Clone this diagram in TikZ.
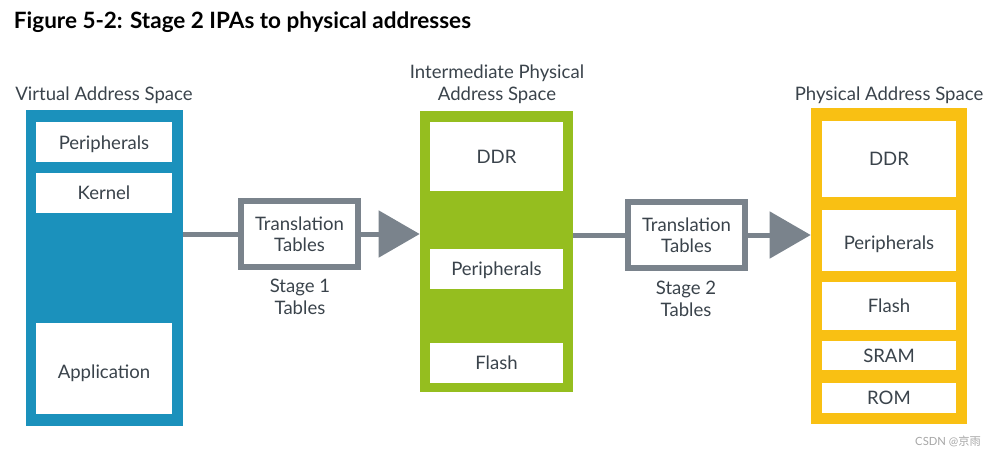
\documentclass[tikz,border=0pt]{standalone}
\usepackage{fontspec}
\setmainfont{Lato}
\newfontfamily\cjkfont{Noto Sans CJK SC}
\usetikzlibrary{arrows.meta}
\definecolor{vablue}{RGB}{27,145,188}
\definecolor{ipagreen}{RGB}{149,190,31}
\definecolor{payellow}{RGB}{249,192,19}
\definecolor{linkgray}{RGB}{122,131,140}
\definecolor{labelgray}{RGB}{58,67,75}
% lower a box text without changing its size
\newcommand{\lowered}[2]{\raisebox{-#1}[\height][\depth]{#2}}

\begin{document}
\begin{tikzpicture}[x=0.025cm,y=-0.025cm,font=\fontsize{13.2}{15}\selectfont,text=labelgray,
    space/.style={fill=#1,inner sep=0pt},
    region/.style={fill=white,inner sep=0pt,minimum width=#1},
    table box/.style={draw=linkgray,line width=0.15cm,fill=white,minimum width=2.925cm,minimum height=1.65cm,align=center,inner sep=0pt},
    caption/.style={align=center,font=\fontsize{13.2}{15.5}\selectfont},
    link/.style={draw=linkgray,color=linkgray,line width=0.125cm},
    big tip/.style={-{Triangle[length=1.025cm,width=1.15cm,fill=linkgray]}}]
    \useasboundingbox (0,0) rectangle (997,456);

    \node[anchor=west,text=black,font=\fontsize{16}{19}\selectfont\bfseries] (title) at (9,22) {Figure 5-2: Stage 2 IPAs to physical addresses};

    % virtual address space
    \node[space=vablue,minimum width=3.925cm,minimum height=7.9cm] (vas) at (104.5,268) {};
    \node[region=3.4cm,minimum height=1cm] (vperi) at (104,142) {\lowered{0.06cm}{Peripherals}};
    \node[region=3.4cm,minimum height=1cm] (vkern) at (104,193) {Kernel};
    \node[region=3.4cm,minimum height=2.275cm] (vapp) at (104,368.5) {\lowered{0.125cm}{Application}};
    \node[caption] (vaslabel) at (104,95) {Virtual Address Space};

    % intermediate physical address space
    \node[space=ipagreen,minimum width=3.825cm,minimum height=7.025cm] (ipa) at (496.5,251.5) {};
    \node[region=3.325cm,minimum height=1.725cm] (iddr) at (496.5,156.5) {DDR};
    \node[region=3.325cm,minimum height=1cm] (iperi) at (496.5,269) {\lowered{0.04cm}{Peripherals}};
    \node[region=3.325cm,minimum height=1cm] (iflash) at (496.5,363) {Flash};
    \node[caption] (ipalabel) at (497,84) {Intermediate Physical\\Address Space};

    % physical address space
    \node[space=payellow,minimum width=3.9cm,minimum height=7.9cm] (pas) at (889,266) {};
    \node[region=3.35cm,minimum height=1.9cm] (pddr) at (889,159) {DDR};
    \node[region=3.35cm,minimum height=1.525cm] (pperi) at (889,240.5) {\lowered{0.1cm}{Peripherals}};
    \node[region=3.35cm,minimum height=1.2cm] (pflash) at (889,306) {Flash};
    \node[region=3.35cm,minimum height=0.725cm] (psram) at (889,355.5) {SRAM};
    \node[region=3.35cm,minimum height=0.75cm] (prom) at (889,398) {ROM};
    \node[caption] (paslabel) at (889,95) {Physical Address Space};

    % translation tables
    \node[table box] (tt1) at (299.5,234) {Translation\\Tables};
    \node[caption] (st1) at (300,297) {Stage 1\\Tables};
    \node[table box] (tt2) at (686.5,235) {Translation\\Tables};
    \node[caption] (st2) at (686,299) {Stage 2\\Tables};

    \path[link]
        (vas.east |- tt1) edge (tt1.west)
        (tt1.east) edge[big tip] (ipa.west |- tt1)
        (ipa.east |- tt2) edge (tt2.west)
        (tt2.east) edge[big tip] (pas.west |- tt2)
        ;

    \node[text=black!35,font=\fontsize{8}{10}\selectfont] (mark) at (948,441) {CSDN @{\cjkfont 京雨}};
\end{tikzpicture}
\end{document}
